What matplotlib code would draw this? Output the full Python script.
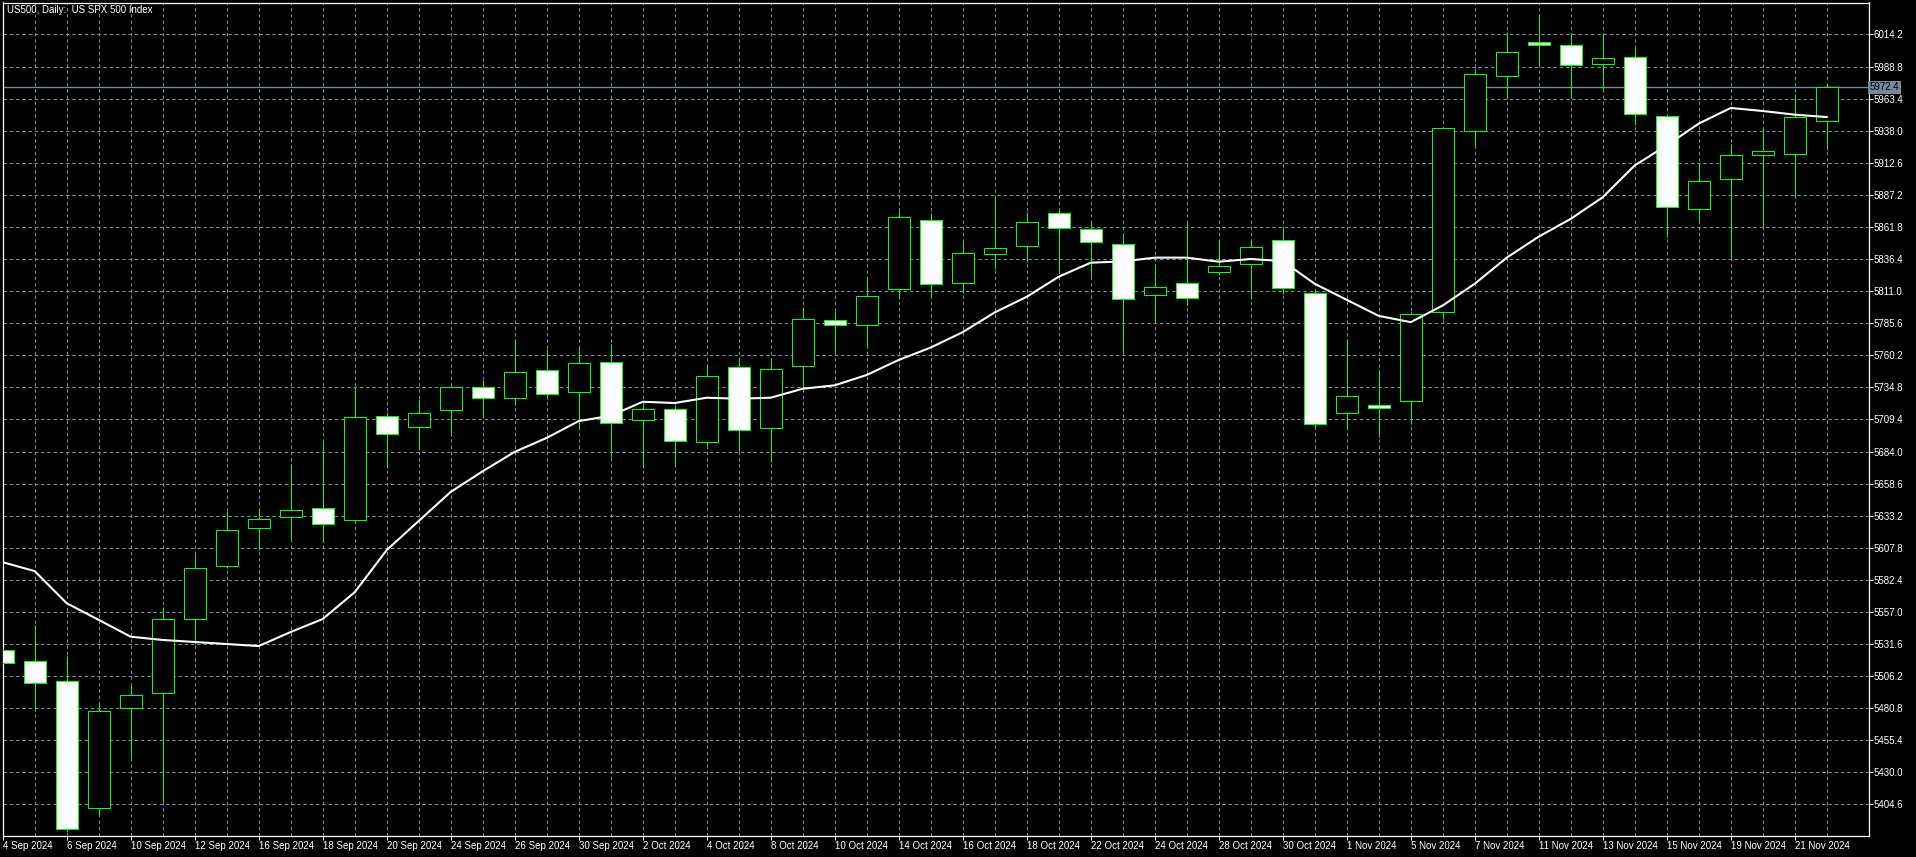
import matplotlib
matplotlib.use("Agg")
import matplotlib.pyplot as plt

plt.rcParams['font.family'] = ['Liberation Sans', 'DejaVu Sans']
plt.rcParams['lines.scale_dashes'] = False

# daily bars 4 Sep 2024 .. 22 Nov 2024 (US500 CFD)
opens = [5526.8, 5517.8, 5502.0, 5402.0, 5481.3, 5492.7, 5551.4, 5593.5, 5623.7, 5632.1,
         5639.6, 5630.0, 5712.3, 5703.8, 5716.5, 5735.3, 5726.6, 5748.3, 5730.8, 5754.6,
         5708.6, 5717.3, 5691.9, 5751.2, 5702.8, 5751.5, 5788.5, 5784.0, 5812.6, 5867.1,
         5817.4, 5840.4, 5846.7, 5872.6, 5859.9, 5848.3, 5807.8, 5817.4, 5826.3, 5832.7,
         5851.5, 5809.4, 5714.4, 5720.8, 5724.0, 5794.3, 5937.7, 5981.1, 6008.6, 6005.5,
         5991.2, 5996.5, 5949.6, 5875.8, 5899.6, 5918.7, 5919.5, 5945.9]
highs = [5529.0, 5546.9, 5522.3, 5485.1, 5499.3, 5561.2, 5602.5, 5636.6, 5638.2, 5673.4,
         5693.0, 5735.3, 5715.5, 5725.5, 5736.0, 5740.6, 5772.9, 5765.0, 5767.1, 5769.2,
         5720.8, 5720.8, 5753.1, 5758.9, 5758.3, 5798.6, 5795.4, 5821.8, 5874.8, 5872.9,
         5850.2, 5885.3, 5874.0, 5876.6, 5866.0, 5856.2, 5832.7, 5865.2, 5851.2, 5851.2,
         5861.3, 5812.9, 5773.2, 5748.6, 5794.5, 5941.0, 5987.5, 6015.8, 6030.3, 6015.0,
         6014.2, 6003.1, 5950.7, 5912.6, 5927.7, 5939.6, 5967.4, 5975.3]
lows = [5514.0, 5478.7, 5383.0, 5396.2, 5440.3, 5405.1, 5531.6, 5591.9, 5605.7, 5614.7,
        5612.0, 5628.4, 5671.0, 5685.6, 5696.2, 5710.2, 5720.8, 5725.3, 5702.0, 5679.8,
        5671.0, 5673.2, 5688.2, 5684.3, 5675.8, 5734.0, 5762.8, 5767.1, 5804.7, 5805.4,
        5809.4, 5828.2, 5834.0, 5825.0, 5822.4, 5762.3, 5785.6, 5799.1, 5824.0, 5804.7,
        5808.9, 5702.5, 5701.5, 5695.6, 5705.7, 5789.0, 5924.8, 5963.4, 5989.9, 5963.9,
        5969.5, 5942.2, 5854.1, 5866.3, 5836.1, 5860.7, 5885.3, 5922.4]
closes = [5516.8, 5500.4, 5385.4, 5478.7, 5491.1, 5551.4, 5591.9, 5622.1, 5630.8, 5638.0,
          5626.3, 5711.0, 5697.5, 5714.2, 5734.8, 5726.1, 5747.0, 5729.8, 5753.9, 5706.2,
          5717.3, 5692.7, 5743.5, 5700.7, 5749.1, 5788.8, 5784.0, 5807.0, 5869.7, 5816.6,
          5841.2, 5845.1, 5865.8, 5861.3, 5849.9, 5804.7, 5814.4, 5805.7, 5831.1, 5846.2,
          5813.6, 5705.7, 5727.9, 5718.4, 5793.0, 5939.9, 5982.7, 6000.2, 6006.0, 5990.4,
          5995.9, 5951.5, 5877.7, 5898.3, 5919.0, 5922.1, 5948.6, 5972.4]
# moving average line as drawn on the chart
ma = [5596.4, 5589.3, 5563.9, 5550.7, 5537.4, 5534.8, 5533.2, 5531.6, 5530.0, 5541.1,
      5551.4, 5572.6, 5606.0, 5629.0, 5652.0, 5668.4, 5683.7, 5694.8, 5708.1, 5712.3,
      5723.4, 5722.4, 5726.6, 5725.8, 5726.6, 5733.7, 5736.4, 5744.6, 5756.5, 5766.3,
      5778.5, 5794.1, 5806.5, 5822.4, 5833.5, 5834.5, 5837.5, 5837.5, 5834.3, 5836.4,
      5834.8, 5816.8, 5804.1, 5791.4, 5786.4, 5799.6, 5816.8, 5837.5, 5854.1, 5868.2,
      5885.3, 5910.5, 5926.4, 5943.6, 5956.0, 5953.6, 5950.7, 5948.8]

date_labels = ['4 Sep 2024', '6 Sep 2024', '10 Sep 2024', '12 Sep 2024', '16 Sep 2024',
               '18 Sep 2024', '20 Sep 2024', '24 Sep 2024', '26 Sep 2024', '30 Sep 2024',
               '2 Oct 2024', '4 Oct 2024', '8 Oct 2024', '10 Oct 2024', '14 Oct 2024',
               '16 Oct 2024', '18 Oct 2024', '22 Oct 2024', '24 Oct 2024', '28 Oct 2024',
               '30 Oct 2024', '1 Nov 2024', '5 Nov 2024', '7 Nov 2024', '11 Nov 2024',
               '13 Nov 2024', '15 Nov 2024', '19 Nov 2024', '21 Nov 2024']
price_ticks = [5404.6, 5430.0, 5455.4, 5480.8, 5506.2, 5531.6, 5557.0, 5582.4, 5607.8,
               5633.2, 5658.6, 5684.0, 5709.4, 5734.8, 5760.2, 5785.6, 5811.0, 5836.4,
               5861.8, 5887.2, 5912.6, 5938.0, 5963.4, 5988.8, 6014.2]
last_price = 5972.4

green = '#00ff00'
grid_col = '#778899'

W, H = 1916, 857
fig = plt.figure(figsize=(W / 100, H / 100), dpi=100, facecolor='black')
ax = fig.add_axes([2.5 / W, (H - 836) / H, 1866 / W, 833.5 / H])
ax.set_facecolor('black')

n = len(opens)
xs = list(range(n))

# grid
for p in price_ticks:
    ax.axhline(p, color=grid_col, lw=0.72, dashes=(2.5, 2.0), zorder=0)
for i in xs[1:]:
    ax.axvline(i, color=grid_col, lw=0.72, dashes=(2.5, 2.0), zorder=0)

ax.axhline(last_price, color=grid_col, lw=1.0, zorder=1)

# candles
ax.vlines(xs, lows, highs, color=green, lw=0.75, zorder=2)
bottoms = [min(o, c) for o, c in zip(opens, closes)]
heights = [max(abs(c - o), 0.3) for o, c in zip(opens, closes)]
fills = ['black' if c >= o else 'white' for o, c in zip(opens, closes)]
ax.bar(xs, heights, bottom=bottoms, width=0.69, color=fills, edgecolor=green,
       linewidth=0.75, zorder=3)

ax.plot(xs, ma, color='white', lw=1.5, zorder=4)

ax.set_xlim(-0.006, 58.306)
ax.set_ylim(5379.6, 6039.5)

ax.set_xticks(xs[::2])
ax.set_xticklabels(date_labels, ha='left')
ax.yaxis.tick_right()
ax.set_yticks(price_ticks)
ax.set_yticklabels([f'{p:.1f}' for p in price_ticks])
ax.tick_params(colors='white', labelsize=7, length=3, width=0.75, pad=0.5)

for s in ax.spines.values():
    s.set_color('white')
    s.set_linewidth(0.9)

ax.text(1.0007, last_price, f'{last_price:.1f}', transform=ax.get_yaxis_transform(),
        ha='left', va='center', fontsize=7, color='black',
        bbox=dict(boxstyle='square,pad=0.15', facecolor=grid_col, edgecolor='none'))

fig.text(7 / W, 1 - 10 / H, 'US500, Daily:  US SPX 500 Index', color='white',
         fontsize=7, ha='left', va='center')

plt.savefig('out.png', dpi=100, facecolor='black')
